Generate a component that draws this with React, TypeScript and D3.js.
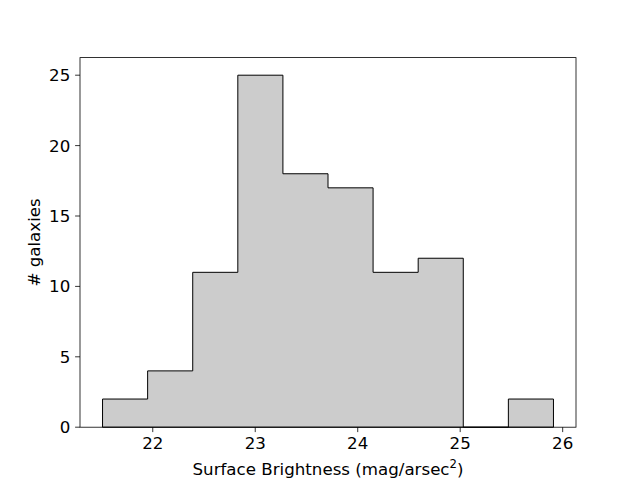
import React from "react";
import * as d3 from "d3";

const binStart = 21.51;
const binWidth = 0.44;
const counts = [2, 4, 11, 25, 18, 17, 11, 12, 0, 2];
const xTicks = [22, 23, 24, 25, 26];
const yTicks = [0, 5, 10, 15, 20, 25];

export default function App() {
  const W = 640, H = 480;
  const left = 80, right = 576, top = 57.6, bottom = 427.2;
  const n = counts.length;
  const x0 = binStart, x1 = binStart + n * binWidth;
  const pad = (x1 - x0) * 0.05;
  const x = d3.scaleLinear().domain([x0 - pad, x1 + pad]).range([left, right]);
  const ymax = d3.max(counts)! * 1.05;
  const y = d3.scaleLinear().domain([0, ymax]).range([bottom, top]);

  const pts: [number, number][] = [[x(x0), y(0)]];
  counts.forEach((c, i) => {
    const a = binStart + i * binWidth;
    pts.push([x(a), y(c)]);
    pts.push([x(a + binWidth), y(c)]);
  });
  pts.push([x(x1), y(0)]);
  const path = d3.line()(pts) + "Z";

  const font = "DejaVu Sans, sans-serif";
  const fs = 16.67;
  return (
    <svg width={W} height={H} style={{ position: "absolute", left: 0, top: 0 }}>
      <rect x={0} y={0} width={W} height={H} fill="white" />
      <path d={path} fill="#cccccc" stroke="black" strokeWidth={1} strokeLinejoin="miter" />
      <rect x={left} y={top} width={right - left} height={bottom - top} fill="none" stroke="black" strokeWidth={0.8} />
      {xTicks.map((t) => (
        <g key={"x" + t}>
          <line x1={x(t)} x2={x(t)} y1={bottom} y2={bottom + 4.9} stroke="black" strokeWidth={0.8} />
          <text x={x(t)} y={448.5} textAnchor="middle" fontFamily={font} fontSize={fs}>{t}</text>
        </g>
      ))}
      {yTicks.map((t) => (
        <g key={"y" + t}>
          <line x1={left - 4.9} x2={left} y1={y(t)} y2={y(t)} stroke="black" strokeWidth={0.8} />
          <text x={left - 9.7} y={y(t)} dy="0.365em" textAnchor="end" fontFamily={font} fontSize={fs}>{t}</text>
        </g>
      ))}
      <text x={(left + right) / 2} y={475} textAnchor="middle" fontFamily={font} fontSize={fs}>
        Surface Brightness (mag/arsec<tspan dy={-7} fontSize={11.7}>2</tspan><tspan dy={7}>)</tspan>
      </text>
      <text transform={`translate(40, ${(top + bottom) / 2}) rotate(-90)`} textAnchor="middle" fontFamily={font} fontSize={fs}># galaxies</text>
    </svg>
  );
}
